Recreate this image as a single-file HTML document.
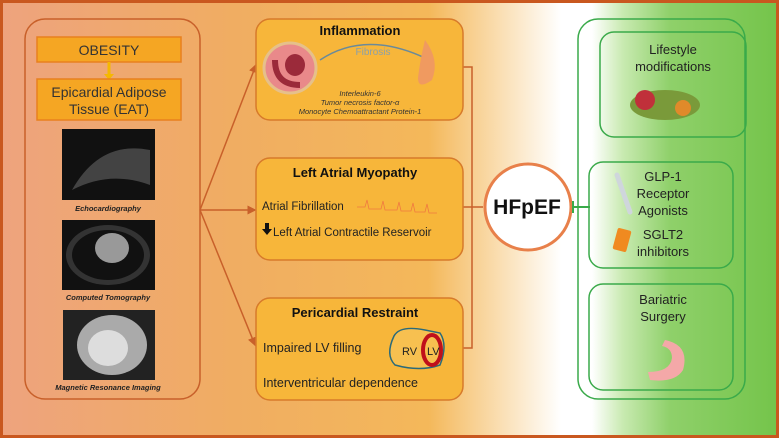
<!DOCTYPE html>
<html><head><meta charset="utf-8"><style>
html,body{margin:0;padding:0;width:779px;height:438px;overflow:hidden}
svg{display:block;font-family:"Liberation Sans",Arial,sans-serif}
</style></head><body>
<svg width="779" height="438" viewBox="0 0 779 438" xmlns="http://www.w3.org/2000/svg">
<defs>
<linearGradient id="bg" x1="0" x2="1" y1="0" y2="0">
<stop offset="0" stop-color="#eea37e"/>
<stop offset="0.3" stop-color="#f0ad62"/>
<stop offset="0.55" stop-color="#f4b85a"/>
<stop offset="0.66" stop-color="#fbe6c4"/>
<stop offset="0.72" stop-color="#ffffff"/>
<stop offset="0.76" stop-color="#ffffff"/>
<stop offset="0.80" stop-color="#c8eab0"/>
<stop offset="0.86" stop-color="#8fd06a"/>
<stop offset="1" stop-color="#74c44a"/>
</linearGradient>
<marker id="ar" markerWidth="6" markerHeight="6" refX="5" refY="3" orient="auto"><path d="M0,0 L6,3 L0,6z" fill="#c8602a"/></marker>
</defs>
<rect width="779" height="438" fill="url(#bg)"/>
<rect x="1.5" y="1.5" width="776" height="435" fill="none" stroke="#c9581f" stroke-width="3"/>
<rect x="25" y="19" width="175" height="380" rx="20" fill="none" stroke="#c8602a" stroke-width="1.5"/>
<rect x="37" y="37" width="144" height="25" fill="#f5a623" stroke="#e8801e" stroke-width="1.5"/>
<text x="109" y="55" font-size="14" text-anchor="middle" fill="#333">OBESITY</text>
<path d="M109 62 V76" stroke="#f5b800" stroke-width="3"/><path d="M104 74 L114 74 L109 80z" fill="#f5b800"/>
<rect x="37" y="79" width="144" height="41" fill="#f5a623" stroke="#e8801e" stroke-width="1.5"/>
<text x="109" y="97" font-size="14" text-anchor="middle" fill="#333">Epicardial Adipose</text>
<text x="109" y="114" font-size="14" text-anchor="middle" fill="#333">Tissue (EAT)</text>
<rect x="62" y="129" width="93" height="71" fill="#111"/>
<path d="M72 190 Q100 140 150 150 L150 185 Q110 170 72 190z" fill="#666" opacity=".6"/>
<text x="108" y="211" font-size="7.5" font-weight="bold" font-style="italic" text-anchor="middle" fill="#222">Echocardiography</text>
<rect x="62" y="220" width="93" height="70" fill="#111"/>
<ellipse cx="108" cy="255" rx="42" ry="30" fill="#333"/><ellipse cx="108" cy="255" rx="36" ry="25" fill="#111"/><ellipse cx="112" cy="248" rx="17" ry="15" fill="#999"/>
<text x="108" y="300" font-size="7.5" font-weight="bold" font-style="italic" text-anchor="middle" fill="#222">Computed Tomography</text>
<rect x="63" y="310" width="92" height="70" fill="#222"/>
<ellipse cx="112" cy="345" rx="35" ry="30" fill="#aaa"/><ellipse cx="108" cy="348" rx="20" ry="18" fill="#ddd"/>
<text x="108" y="390" font-size="7.5" font-weight="bold" font-style="italic" text-anchor="middle" fill="#222">Magnetic Resonance Imaging</text>
<g stroke="#c8602a" stroke-width="1.5" fill="none">
<path d="M200 210 L256 65" marker-end="url(#ar)"/>
<path d="M200 210 L255 210" marker-end="url(#ar)"/>
<path d="M200 210 L255 345" marker-end="url(#ar)"/>
<path d="M463 67 H472 V348 H463"/>
<path d="M463 207 H483"/>
</g>
<g stroke="#d77a2a" stroke-width="1.5" fill="#f7b63a">
<rect x="256" y="19" width="207" height="101" rx="14"/>
<rect x="256" y="158" width="207" height="102" rx="14"/>
<rect x="256" y="298" width="207" height="102" rx="14"/>
</g>
<text x="360" y="35" font-size="13" font-weight="bold" text-anchor="middle" fill="#111">Inflammation</text>
<path d="M320 60 Q365 30 425 58" stroke="#6a8a9a" stroke-width="1.5" fill="none"/>
<text x="373" y="55" font-size="10" text-anchor="middle" fill="#8aa0aa">Fibrosis</text>
<ellipse cx="290" cy="68" rx="26" ry="25" fill="#e9898a" stroke="#e6c08a" stroke-width="3"/>
<ellipse cx="295" cy="65" rx="10" ry="11" fill="#9b2a3a"/>
<path d="M275 60 Q275 85 300 85" stroke="#9b2a3a" stroke-width="6" fill="none"/>
<path d="M425 40 Q440 60 432 80 Q418 90 418 78 Q420 60 425 40z" fill="#f09a60"/>
<text x="360" y="96" font-size="7.5" font-style="italic" text-anchor="middle" fill="#333">Interleukin-6</text>
<text x="360" y="105" font-size="7.5" font-style="italic" text-anchor="middle" fill="#333">Tumor necrosis factor-α</text>
<text x="360" y="114" font-size="7.5" font-style="italic" text-anchor="middle" fill="#333">Monocyte Chemoattractant Protein-1</text>
<text x="355" y="177" font-size="13" font-weight="bold" text-anchor="middle" fill="#111">Left Atrial Myopathy</text>
<text x="262" y="210" font-size="11.5" fill="#222">Atrial Fibrillation</text>
<path d="M357 207 h8 l2 -7 l2 9 h12 l2 -8 l2 9 h12 l2 -8 l2 9 h10 l2 -8 l2 9 h10 l2 -8 l2 9 h8" stroke="#f07a40" stroke-width="0.8" fill="none"/>
<path d="M265 223 v6 h-3 l5 6 l5 -6 h-3 v-6z" fill="#111"/>
<text x="273" y="236" font-size="11.5" fill="#222">Left Atrial Contractile Reservoir</text>
<text x="355" y="317" font-size="13" font-weight="bold" text-anchor="middle" fill="#111">Pericardial Restraint</text>
<text x="263" y="352" font-size="12.5" fill="#222">Impaired LV filling</text>
<path d="M394 336 Q400 325 425 330 L440 333 Q448 345 440 365 Q420 372 395 365 Q385 355 394 336z" fill="#f7c050" stroke="#2a6a7a" stroke-width="1.5"/>
<ellipse cx="432" cy="350" rx="9" ry="15" fill="none" stroke="#c0101a" stroke-width="4"/>
<text x="402" y="355" font-size="11" fill="#222">RV</text>
<text x="427" y="355" font-size="11" fill="#222">LV</text>
<text x="263" y="387" font-size="12.5" fill="#222">Interventricular dependence</text>
<circle cx="528" cy="207" r="43" fill="#fff" stroke="#e8804a" stroke-width="3"/>
<text x="527" y="214" font-size="21" font-weight="bold" text-anchor="middle" fill="#111">HFpEF</text>
<path d="M573 207 H590 M573 201 V213" stroke="#3aaa4a" stroke-width="2"/>
<rect x="578" y="19" width="167" height="380" rx="20" fill="none" stroke="#3aaa4a" stroke-width="1.5"/>
<g stroke="#3aaa4a" stroke-width="1.5" fill="none">
<rect x="600" y="32" width="146" height="105" rx="14"/>
<rect x="589" y="162" width="144" height="106" rx="14"/>
<rect x="589" y="284" width="144" height="106" rx="14"/>
</g>
<text x="673" y="54" font-size="13" text-anchor="middle" fill="#222">Lifestyle</text>
<text x="673" y="71" font-size="13" text-anchor="middle" fill="#222">modifications</text>
<ellipse cx="665" cy="105" rx="35" ry="15" fill="#7a9a3a"/><circle cx="645" cy="100" r="10" fill="#c0303a"/><circle cx="683" cy="108" r="8" fill="#e08a2a"/>
<text x="663" y="181" font-size="13" text-anchor="middle" fill="#222">GLP-1</text>
<text x="663" y="198" font-size="13" text-anchor="middle" fill="#222">Receptor</text>
<text x="663" y="215" font-size="13" text-anchor="middle" fill="#222">Agonists</text>
<text x="663" y="239" font-size="13" text-anchor="middle" fill="#222">SGLT2</text>
<text x="663" y="256" font-size="13" text-anchor="middle" fill="#222">inhibitors</text>
<path d="M617 175 L630 212" stroke="#cfd6dc" stroke-width="5" stroke-linecap="round"/>
<rect x="615" y="229" width="14" height="22" rx="2" fill="#f08a20" transform="rotate(15 622 240)"/>
<text x="663" y="304" font-size="13" text-anchor="middle" fill="#222">Bariatric</text>
<text x="663" y="321" font-size="13" text-anchor="middle" fill="#222">Surgery</text>
<path d="M665 340 Q690 345 683 370 Q675 383 650 380 L648 372 Q670 372 672 358 Q672 348 662 346z" fill="#f4a8a8"/>
</svg>
</body></html>
